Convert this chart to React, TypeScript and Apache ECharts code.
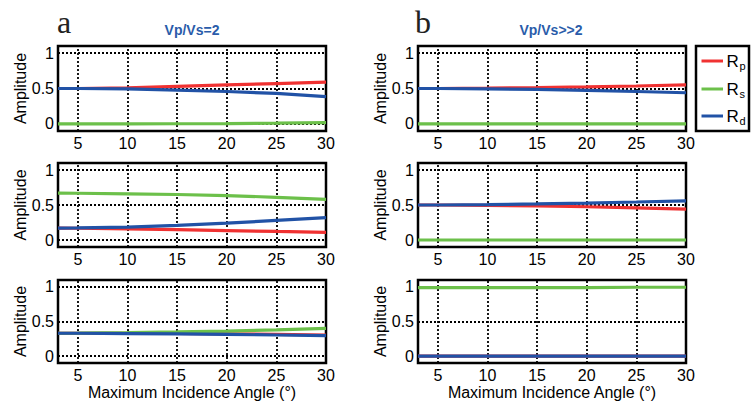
import React, { useEffect, useRef } from 'react';
import * as echarts from 'echarts';

// Maximum incidence angle (°)
const angles = [3, 5, 10, 15, 20, 25, 30];

// Panel a: Vp/Vs = 2
const aTopRp = [0.5, 0.5, 0.51, 0.53, 0.55, 0.57, 0.59];
const aTopRs = [0, 0, 0, 0.002, 0.005, 0.01, 0.017];
const aTopRd = [0.5, 0.5, 0.495, 0.478, 0.458, 0.43, 0.385];
const aMidRp = [0.17, 0.168, 0.16, 0.147, 0.135, 0.122, 0.11];
const aMidRs = [0.67, 0.668, 0.66, 0.65, 0.635, 0.61, 0.58];
const aMidRd = [0.17, 0.172, 0.185, 0.21, 0.24, 0.28, 0.32];
const aBotRp = [0.33, 0.33, 0.33, 0.327, 0.322, 0.315, 0.305];
const aBotRs = [0.33, 0.332, 0.34, 0.35, 0.362, 0.38, 0.4];
const aBotRd = [0.33, 0.33, 0.326, 0.32, 0.314, 0.305, 0.296];

// Panel b: Vp/Vs >> 2
const bTopRp = [0.5, 0.5, 0.505, 0.513, 0.523, 0.535, 0.55];
const bTopRs = [0, 0, 0, 0, 0, 0, 0];
const bTopRd = [0.5, 0.5, 0.496, 0.487, 0.474, 0.458, 0.44];
const bMidRp = [0.5, 0.5, 0.495, 0.487, 0.475, 0.46, 0.44];
const bMidRs = [0, 0, 0, 0, 0, 0, 0];
const bMidRd = [0.5, 0.5, 0.505, 0.515, 0.528, 0.543, 0.56];
const bBotRp = [0, 0, 0, 0, 0, 0, 0];
const bBotRs = [0.99, 0.99, 0.99, 0.99, 0.99, 0.995, 0.995];
const bBotRd = [0, 0, 0, 0, 0, 0, 0];

const xTicks = [5, 10, 15, 20, 25, 30];
const yTicks = [0, 0.5, 1];
const yTickText = ['0', '0.5', '1'];

const seriesNames = ['Rp', 'Rs', 'Rd'];
const colors = ['#f03232', '#6cc04a', '#2152a6'];

const panels = [
  [aTopRp, aTopRs, aTopRd],
  [aMidRp, aMidRs, aMidRd],
  [aBotRp, aBotRs, aBotRd],
  [bTopRp, bTopRs, bTopRd],
  [bMidRp, bMidRs, bMidRd],
  [bBotRp, bBotRs, bBotRd],
];

const FONT = "'Liberation Sans', Arial, sans-serif";
const colLeft = [58, 418];
const rowTop = [46, 163, 280];
const rowH = [85, 84, 83];
const boxW = 268;

export default function App() {
  const ref = useRef<HTMLDivElement>(null);
  useEffect(() => {
    if (!ref.current) return;
    const chart = echarts.init(ref.current, null, { renderer: 'svg' });
    const grids: any[] = [];
    const xAxes: any[] = [];
    const yAxes: any[] = [];
    const series: any[] = [];
    panels.forEach((panel, i) => {
      const col = i < 3 ? 0 : 1;
      const row = i % 3;
      grids.push({
        left: colLeft[col],
        top: rowTop[row],
        width: boxW,
        height: rowH[row],
        show: true,
        borderColor: '#000',
        borderWidth: 2.5,
        backgroundColor: 'transparent',
      });
      xAxes.push({
        type: 'value',
        gridIndex: i,
        min: 3,
        max: 30,
        interval: 1,
        axisLine: { show: false },
        axisTick: { show: false },
        splitLine: { show: false },
        axisLabel: {
          margin: 4,
          fontSize: 16,
          color: '#000',
          fontFamily: FONT,
          formatter: (v: number) => (xTicks.indexOf(Math.round(v)) >= 0 && Math.abs(v - Math.round(v)) < 1e-6 ? String(Math.round(v)) : ''),
        },
        name: row === 2 ? 'Maximum Incidence Angle (°)' : '',
        nameLocation: 'middle',
        nameGap: 21,
        nameMoveOverlap: false,
        nameTextStyle: { fontSize: 16, color: '#000', fontFamily: FONT },
      });
      yAxes.push({
        type: 'value',
        gridIndex: i,
        min: -0.1,
        max: 1.1,
        interval: 0.1,
        axisLine: { show: false },
        axisTick: { show: false },
        splitLine: { show: false },
        axisLabel: {
          margin: 4,
          fontSize: 16,
          color: '#000',
          fontFamily: FONT,
          formatter: (v: number) => {
            for (let k = 0; k < yTicks.length; k++) {
              if (Math.abs(v - yTicks[k]) < 1e-6) return yTickText[k];
            }
            return '';
          },
        },
        name: 'Amplitude',
        nameLocation: 'middle',
        nameGap: 30,
        nameMoveOverlap: false,
        nameTextStyle: { fontSize: 16, color: '#000', fontFamily: FONT },
      });
      series.push({
        type: 'line',
        xAxisIndex: i,
        yAxisIndex: i,
        data: [],
        z: 1,
        silent: true,
        markLine: {
          z: 1,
          silent: true,
          symbol: 'none',
          animation: false,
          label: { show: false },
          lineStyle: { color: '#000', type: [2, 2], width: 1.8 },
          emphasis: { disabled: true },
          data: [
            ...xTicks.filter((v) => v < 30).map((v) => ({ xAxis: v })),
            ...yTicks.map((v) => ({ yAxis: v })),
          ],
        },
      });
      panel.forEach((vals, k) => {
        series.push({
          type: 'line',
          name: seriesNames[k],
          xAxisIndex: i,
          yAxisIndex: i,
          showSymbol: false,
          z: 3 + k,
          lineStyle: { color: colors[k], width: 3.2 },
          itemStyle: { color: colors[k] },
          data: angles.map((a, j) => [a, vals[j]]),
        });
      });
    });

    const legendY = [61, 89, 116];
    const subs = ['p', 's', 'd'];
    const legendEls: any[] = [
      {
        type: 'rect',
        shape: { x: 696, y: 46, width: 53, height: 85 },
        style: { fill: '#fff', stroke: '#000', lineWidth: 2.5 },
      },
    ];
    legendY.forEach((y, k) => {
      legendEls.push({
        type: 'line',
        shape: { x1: 701.5, y1: y, x2: 723, y2: y },
        style: { stroke: colors[k], lineWidth: 3 },
      });
      legendEls.push({
        type: 'text',
        x: 726.5,
        y: y,
        style: { text: 'R', fontSize: 17, fontFamily: FONT, fill: '#000', verticalAlign: 'middle', align: 'left' },
      });
      legendEls.push({
        type: 'text',
        x: 739.5,
        y: y + 5,
        style: { text: subs[k], fontSize: 11, fontFamily: FONT, fill: '#000', verticalAlign: 'middle', align: 'left' },
      });
    });

    chart.setOption({
      animation: false,
      backgroundColor: '#fff',
      grid: grids,
      xAxis: xAxes,
      yAxis: yAxes,
      series,
      graphic: [
        { type: 'text', x: 57, y: 22, style: { text: 'a', fontSize: 32, fontFamily: "'Liberation Serif', serif", fill: '#222', verticalAlign: 'middle' } },
        { type: 'text', x: 415, y: 22, style: { text: 'b', fontSize: 32, fontFamily: "'Liberation Serif', serif", fill: '#222', verticalAlign: 'middle' } },
        { type: 'text', x: 192, y: 30, style: { text: 'Vp/Vs=2', fontSize: 14, fontWeight: 'bold', fontFamily: FONT, fill: '#2a5caa', align: 'center', verticalAlign: 'middle' } },
        { type: 'text', x: 551, y: 30, style: { text: 'Vp/Vs>>2', fontSize: 14, fontWeight: 'bold', fontFamily: FONT, fill: '#2a5caa', align: 'center', verticalAlign: 'middle' } },
        ...legendEls,
      ],
    });
    return () => chart.dispose();
  }, []);
  return <div ref={ref} style={{ position: 'fixed', left: 0, top: 0, width: 753, height: 402 }} />;
}
